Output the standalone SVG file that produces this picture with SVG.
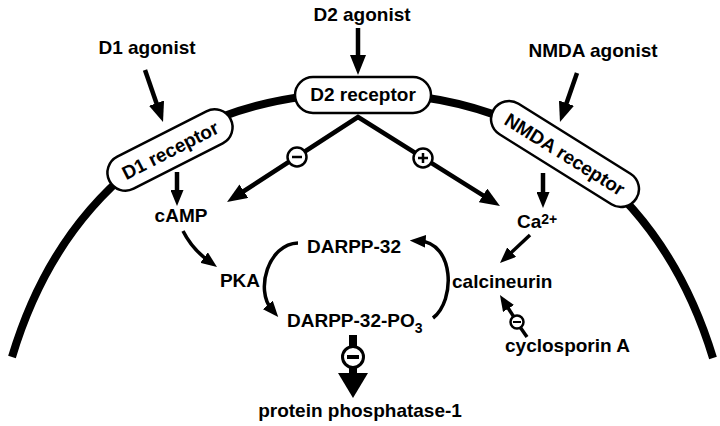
<svg xmlns="http://www.w3.org/2000/svg" width="720" height="426" viewBox="0 0 720 426">
<style>
text{font-family:"Liberation Sans",Arial,Helvetica,sans-serif;font-weight:bold;font-size:19px;fill:#000}
.cap{fill:#fff;stroke:#000;stroke-width:2.5}
.ln{fill:none;stroke:#000;stroke-width:4.5}
.cv{fill:none;stroke:#000;stroke-width:3.5}
.sg{fill:#fff;stroke:#000;stroke-width:2.5}
.mem{fill:none;stroke:#000;stroke-width:8}
</style>
<defs>
<marker id="big" viewBox="0 0 20 16" refX="8" refY="8" markerWidth="20" markerHeight="16" markerUnits="userSpaceOnUse" orient="auto-start-reverse"><path d="M0,0 L20,8 L0,16 z" fill="#000"/></marker>
<marker id="sm" viewBox="0 0 16 13" refX="6" refY="6.5" markerWidth="16" markerHeight="13" markerUnits="userSpaceOnUse" orient="auto"><path d="M0,0 L16,6.5 L0,13 z" fill="#000"/></marker>
</defs>
<rect width="720" height="426" fill="#fff"/>
<path id="membrane" class="mem" d="M12,357 C57,207 171,93 361,93 C551,93 667,207 713,358"/>
<g id="connectors">
<path class="ln" d="M145,70 L159.1,110.7" marker-end="url(#big)"/>
<path class="ln" d="M358,28 L358,63" marker-end="url(#big)"/>
<path class="ln" d="M577,73 L563.9,110.7" marker-end="url(#big)"/>
<path class="ln" d="M177,172 L177,196" marker-end="url(#sm)"/>
<path class="ln" d="M543,173 L543,198" marker-end="url(#sm)"/>
<path class="ln" d="M237.1,195.5 L358,117 L489.8,199.6" stroke-linejoin="miter" marker-start="url(#big)" marker-end="url(#big)"/>
<path class="cv" d="M530,235 L507.3,256.2" marker-end="url(#sm)"/>
<path class="cv" d="M513.3,316.1 L505.3,303.5" marker-end="url(#sm)"/>
<path class="cv" d="M520.7,327.9 L527,337"/>
<path class="cv" d="M183,231 Q192,249 208.9,261.1" marker-end="url(#sm)"/>
<path class="cv" d="M298,243 C268,244 255,290 271.7,309.5" marker-end="url(#sm)"/>
<path class="cv" d="M433,318 C456,300 454,243 419.7,241" marker-end="url(#sm)"/>
<circle class="sg" cx="297" cy="157" r="9.5"/>
<path d="M292,157 H302" stroke="#000" stroke-width="2.5"/>
<circle class="sg" cx="423" cy="158" r="9.5"/>
<path d="M418,158 H428 M423,153 V163" stroke="#000" stroke-width="2.5"/>
<circle class="sg" cx="517" cy="322" r="6.5" stroke-width="2"/>
<path d="M513,322 H521" stroke="#000" stroke-width="2"/>
<rect x="349" y="335" width="8" height="12" fill="#000"/>
<circle cx="353" cy="357" r="10.5" fill="#fff" stroke="#000" stroke-width="3"/>
<path d="M347,357 H359" stroke="#000" stroke-width="4"/>
<rect x="349" y="367" width="8" height="7" fill="#000"/>
<path d="M338,373 L368,373 L353,398 z" fill="#000"/>
</g>
<g id="d1-agonist"><text x="147" y="54" text-anchor="middle">D1 agonist</text></g>
<g id="d2-agonist"><text x="362" y="21" text-anchor="middle">D2 agonist</text></g>
<g id="nmda-agonist"><text x="593" y="57" text-anchor="middle">NMDA agonist</text></g>
<g id="d2-receptor"><rect class="cap" x="295" y="77" width="136" height="36" rx="18"/><text x="363" y="101" text-anchor="middle">D2 receptor</text></g>
<g id="d1-receptor" transform="translate(170,150) rotate(-27)"><rect class="cap" x="-68" y="-18" width="136" height="36" rx="18"/><text x="0" y="7" text-anchor="middle">D1 receptor</text></g>
<g id="nmda-receptor" transform="translate(565,154) rotate(32)"><rect class="cap" x="-84" y="-18" width="168" height="36" rx="18"/><text x="0" y="7" text-anchor="middle">NMDA receptor</text></g>
<g id="camp"><text x="181" y="222" text-anchor="middle">cAMP</text></g>
<g id="ca"><text x="517" y="228">Ca<tspan font-size="14" dy="-4">2+</tspan></text></g>
<g id="pka"><text x="240" y="287" text-anchor="middle">PKA</text></g>
<g id="darpp"><text x="307" y="253">DARPP-32</text></g>
<g id="darpp-po3"><text x="287" y="327">DARPP-32-PO<tspan font-size="14" dy="6">3</tspan></text></g>
<g id="calcineurin"><text x="452" y="288">calcineurin</text></g>
<g id="cyclosporin"><text x="505" y="352" font-size="16">cyclosporin A</text></g>
<g id="pp1"><text x="360" y="417" text-anchor="middle">protein phosphatase-1</text></g>
</svg>
